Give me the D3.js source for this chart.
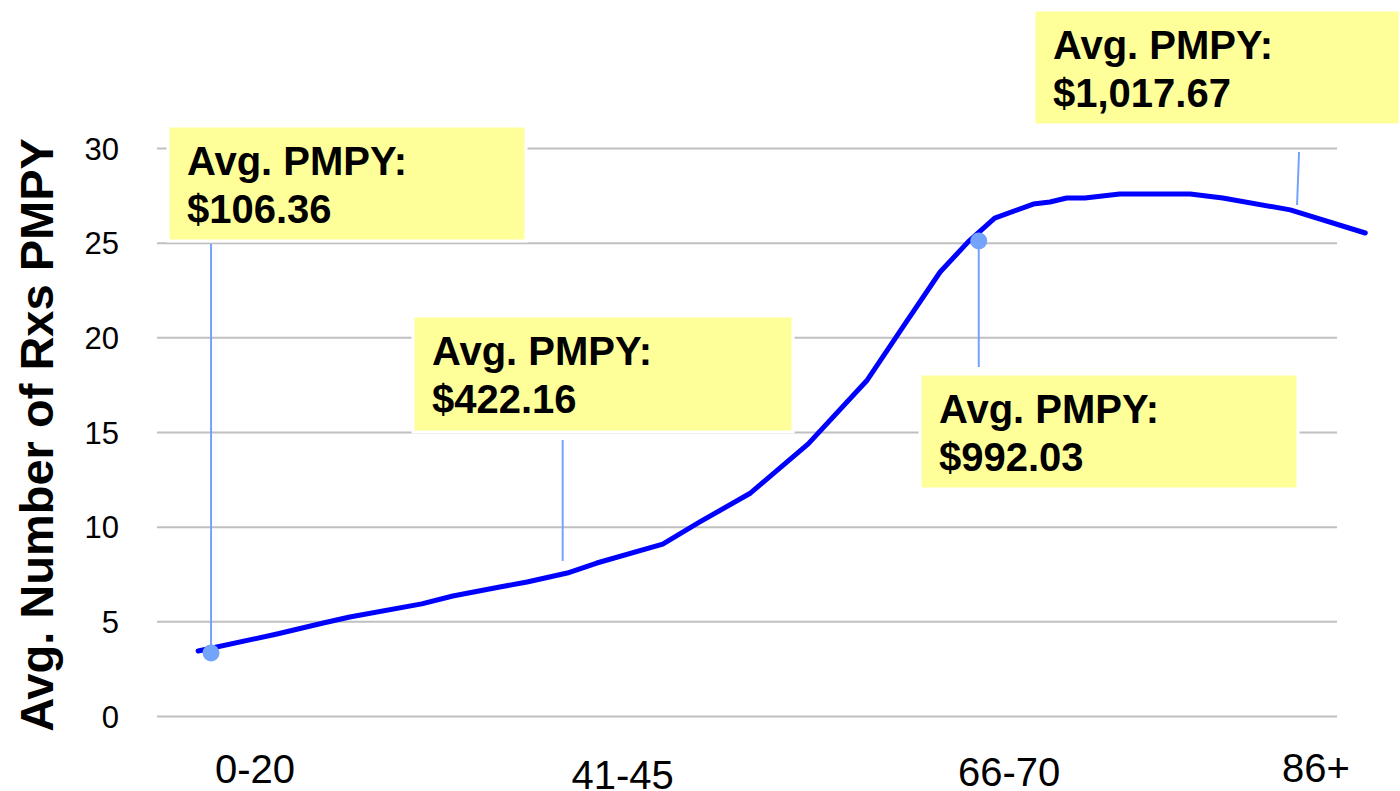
<!DOCTYPE html>
<html>
<head>
<meta charset="utf-8">
<script src="https://cdn.jsdelivr.net/npm/d3@7"></script>
<style>
  body { margin: 0; background: #fff; }
  svg { display: block; font-family: "Liberation Sans", Arial, sans-serif; }
</style>
</head>
<body>
<svg id="graph" width="1400" height="791"></svg>
<script>
/*
 * Avg. number of Rxs PMPY by age band, with PMPY cost callouts
 */

// Age band labels shown under the axis, and the band index where each one sits
var ageLabels = ["0-20", "41-45", "66-70", "86+"];
var labelIdx = [0, 4.85, 9.95, 14];

// Y axis ticks
var yTicks = [0, 5, 10, 15, 20, 25, 30];

// The curve: band index (x) and avg number of Rxs PMPY (y)
var curveX = [-0.75, 0.29, 0.9, 1.25, 2.2, 2.61, 3.23, 3.59, 4.12, 4.51, 5.38, 5.87,
              6.54, 7.3, 8.08, 8.55, 9.04, 9.41, 9.76, 10.27, 10.49, 10.71, 10.95,
              11.41, 12.34, 12.77, 13.66, 14.65];
var curveY = [3.43, 4.33, 4.91, 5.23, 5.92, 6.34, 6.81, 7.08, 7.55, 8.08, 9.08, 10.25,
              11.78, 14.37, 17.75, 20.55, 23.45, 25.04, 26.3, 27.04, 27.15, 27.36, 27.36,
              27.57, 27.57, 27.36, 26.73, 25.51];

// Callouts: cost text, band index and value the pointer reaches, whether it has a dot
var pmpyText = ["$106.36", "$422.16", "$992.03", "$1,017.67"];
var pmpyIdx = [-0.58, 4.06, 9.55, 13.75];
var pmpyVal = [3.33, 8.19, 25.09, 26.99];
var pmpyDot = [true, false, true, false];

// Get the SVG, and its dimensions
var svg = d3.select("#graph"),
    width = +svg.attr("width"),
    height = +svg.attr("height");

// Plot area (pixels)
var plot = {left: 157, right: 1337, top: 148, bottom: 716};

// Define scales (band index -> x, value -> y)
var xScale = d3.scaleLinear().domain([0, 14]).range([255, 1316]);
var yScale = d3.scaleLinear().domain([0, 30]).range([plot.bottom, plot.top]);

// Gridlines + tick labels via axisLeft
var yAxis = d3.axisLeft(yScale)
    .tickValues(yTicks)
    .tickSize(-(plot.right - plot.left))
    .tickPadding(38)
    .tickFormat(d3.format("d"));

var gy = svg.append("g")
    .attr("transform", "translate(" + plot.left + ",0)")
    .call(yAxis);
gy.select(".domain").remove();
gy.selectAll(".tick line").attr("stroke", "#c0c0c0").attr("stroke-width", 2);
gy.selectAll(".tick text")
    .attr("fill", "#000")
    .style("font-size", "31px")
    .attr("dy", "0.36em");

// Y axis title
svg.append("text")
    .attr("transform", "translate(53," + ((plot.top + plot.bottom) / 2 + 3) + ") rotate(-90)")
    .attr("text-anchor", "middle")
    .style("font-size", "47px")
    .style("font-weight", "bold")
    .text("Avg. Number of Rxs PMPY");

// X labels (staggered slightly, as in the original slide)
var labelBase = [783, 789, 786, 782];
svg.append("g").selectAll("text")
    .data(ageLabels)
    .enter().append("text")
    .attr("x", (d, i) => xScale(labelIdx[i]))
    .attr("y", (d, i) => labelBase[i])
    .attr("text-anchor", "middle")
    .style("font-size", "40px")
    .text(d => d);

// Draw the curve
var points = curveX.map((x, i) => [x, curveY[i]]);
svg.append("path").datum(points)
    .attr("fill", "none")
    .attr("stroke", "#0000ff")
    .attr("stroke-width", 5)
    .attr("stroke-linejoin", "round")
    .attr("stroke-linecap", "round")
    .attr("d", d3.line()
        .x(p => xScale(p[0]))
        .y(p => yScale(p[1])));

// Callout boxes (layout in pixels) and where each pointer's far end sits
var boxes = [
    {x: 168, y: 126, w: 358, h: 115, tipY: 244, tipDx: 0},
    {x: 413, y: 316, w: 380, h: 116, tipY: 440, tipDx: 0},
    {x: 920, y: 374, w: 378, h: 115, tipY: 367, tipDx: 0},
    {x: 1034, y: 10, w: 366, h: 115, tipY: 152, tipDx: 2}
];

var callColor = "#74a3fb";

// Pointer lines
svg.append("g").selectAll("line")
    .data(pmpyText)
    .enter().append("line")
    .attr("x1", (d, i) => xScale(pmpyIdx[i]))
    .attr("y1", (d, i) => yScale(pmpyVal[i]))
    .attr("x2", (d, i) => xScale(pmpyIdx[i]) + boxes[i].tipDx)
    .attr("y2", (d, i) => boxes[i].tipY)
    .attr("stroke", callColor)
    .attr("stroke-width", 2);

// Dots at the pointer ends
svg.append("g").selectAll("circle")
    .data(pmpyText.filter((d, i) => pmpyDot[i]))
    .enter().append("circle")
    .attr("cx", d => xScale(pmpyIdx[pmpyText.indexOf(d)]))
    .attr("cy", d => yScale(pmpyVal[pmpyText.indexOf(d)]))
    .attr("r", 8.5)
    .attr("fill", callColor);

// Boxes with text
var call = svg.append("g").selectAll("g")
    .data(pmpyText)
    .enter().append("g")
    .attr("transform", (d, i) => "translate(" + boxes[i].x + "," + boxes[i].y + ")");

call.append("rect")
    .attr("width", (d, i) => boxes[i].w)
    .attr("height", (d, i) => boxes[i].h)
    .attr("fill", "#ffff99")
    .attr("stroke", "#fff")
    .attr("stroke-width", 3);

call.append("text")
    .attr("x", 19).attr("y", 49)
    .style("font-size", "40px").style("font-weight", "bold")
    .text("Avg. PMPY:");

call.append("text")
    .attr("x", 19).attr("y", 97)
    .style("font-size", "40px").style("font-weight", "bold")
    .text(d => d);
</script>
</body>
</html>
